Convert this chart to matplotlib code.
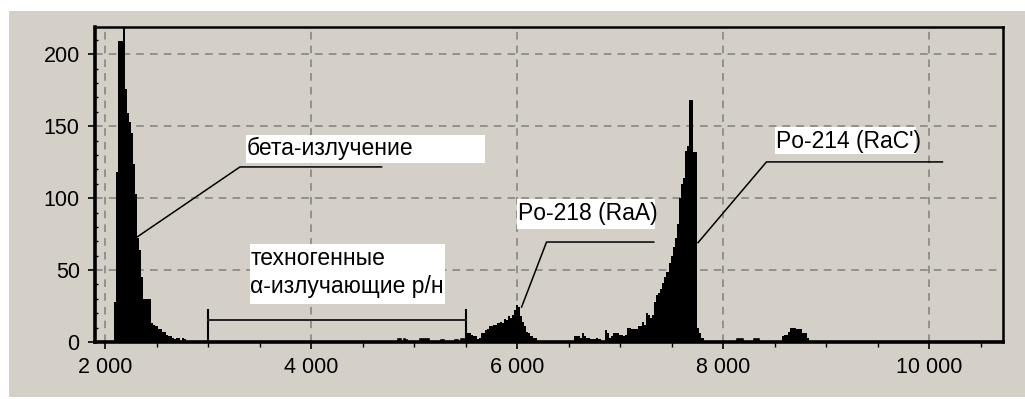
import matplotlib
matplotlib.use('Agg')
import matplotlib.pyplot as plt
import numpy as np
from matplotlib.ticker import MultipleLocator, FuncFormatter
from matplotlib.patches import Rectangle

# channel width of the spectrum
BIN = 20

# beta continuum
beta_start = 2090
beta_counts = [28, 118, 209, 209, 230, 176, 159, 153, 145, 124,
               103, 72, 64, 45, 30, 30, 30, 30, 13, 12,
               11, 9, 9, 7, 7, 5, 4, 4, 3, 2,
               3, 3, 1, 3, 2]

# Po-218 (RaA) region
po218_start = 5490
po218_counts = [4, 6, 6, 5, 4, 4, 2, 3, 6, 6,
                8, 9, 11, 11, 12, 12, 13, 14, 13, 16,
                15, 18, 17, 19, 22, 26, 24, 18, 14, 11,
                7, 6, 4, 3, 3, 1]

# Po-214 (RaC') region
po214_start = 6550
po214_counts = [4, 4, 4, 3, 6, 4, 3, 3, 2, 2,
                2, 3, 2, 1, 1, 8, 6, 3, 4, 6,
                6, 6, 5, 5, 4, 5, 10, 10, 9, 9,
                9, 11, 11, 14, 12, 20, 19, 17, 19, 28,
                33, 34, 37, 41, 45, 49, 55, 60, 66, 72,
                82, 100, 110, 114, 133, 136, 168, 168, 132, 132,
                10, 6, 3]

# small peak near 8700
tail_start = 8570
tail_counts = [4, 5, 5, 7, 10, 10, 10, 9, 9, 9, 6, 6, 3]

# scattered single channels
noise_channels = [4830, 4850, 4890, 4910, 5050, 5070, 5090, 5110, 5130,
                  5250, 5270, 5390, 5410, 5450, 5470,
                  8130, 8150, 8170, 8290, 8310, 8330]
noise_counts = [3, 3, 3, 2, 3, 3, 3, 3, 3, 2, 2, 2, 2, 3, 3,
                3, 3, 3, 3, 3, 3]

BG = '#d4d0c8'
plt.rcParams['font.family'] = 'Liberation Sans'

fig = plt.figure(figsize=(10.25, 3.99), dpi=100, facecolor='white')
panel = Rectangle((9 / 1025, 2 / 399), 1 - 9 / 1025, 386 / 399,
                  transform=fig.transFigure, facecolor=BG,
                  edgecolor='none', zorder=-10)
fig.add_artist(panel)
ax = fig.add_axes([95 / 1025, 57 / 399, 908 / 1025, 315 / 399])
ax.set_facecolor(BG)

# filled spectrum, one stair block per region
for start, counts in [(beta_start, beta_counts), (po218_start, po218_counts),
                      (po214_start, po214_counts), (tail_start, tail_counts)]:
    edges = start + BIN * np.arange(len(counts) + 1)
    ax.stairs(counts, edges, fill=True, color='black', zorder=2)
ax.bar(noise_channels, noise_counts, width=BIN, align='edge', color='black',
       edgecolor='black', linewidth=0.4, zorder=2)

ax.set_xlim(1903, 10717)
ax.set_ylim(0, 219)

ax.xaxis.set_major_locator(MultipleLocator(2000))
ax.xaxis.set_minor_locator(MultipleLocator(500))
ax.yaxis.set_major_locator(MultipleLocator(50))
ax.yaxis.set_minor_locator(MultipleLocator(10))
ax.xaxis.set_major_formatter(FuncFormatter(lambda v, p: f"{v:,.0f}".replace(',', ' ')))

ax.tick_params(which='major', length=5, width=1.2, pad=6, labelsize=15.5)
ax.tick_params(axis='x', which='minor', length=3.5, width=1.0, direction='out')
ax.tick_params(axis='y', which='minor', length=2, width=1.0, direction='in')

ax.grid(which='major', color='#808080', linestyle=(0, (5, 4)), linewidth=1.1, zorder=1)
ax.set_axisbelow(True)

for side, lw in [('left', 2.6), ('bottom', 2.6), ('top', 1.8), ('right', 1.8)]:
    ax.spines[side].set_linewidth(lw)
    ax.spines[side].set_zorder(5)

# label boxes
def box(x0, x1, y0, y1):
    ax.add_patch(Rectangle((x0, y0), x1 - x0, y1 - y0, facecolor='white',
                           edgecolor='none', zorder=3))

FS = 16.5

box(3368, 5688, 124.5, 144.2)
ax.text(3378, 134.5, 'бета-излучение', fontsize=FS, va='center', ha='left', zorder=4)
ax.plot([2291, 3310, 4685], [72, 121.7, 121.7], color='black', lw=1.1, zorder=4)

box(3407, 5299, 26.2, 68.4)
ax.text(3412, 58, 'техногенные', fontsize=FS, va='center', ha='left', zorder=4)
ax.text(3412, 38.3, 'α-излучающие р/н', fontsize=FS, va='center', ha='left', zorder=4)
ax.plot([3000, 3000], [0, 22.5], color='black', lw=1.5, zorder=4)
ax.plot([5500, 5500], [0, 22.5], color='black', lw=1.5, zorder=4)
ax.plot([3000, 5500], [15.6, 15.6], color='#222222', lw=1.4, zorder=4)

box(5995, 7338, 78.9, 99.6)
ax.text(6008, 89.5, 'Po-218 (RaA)', fontsize=FS, va='center', ha='left', zorder=4)
ax.plot([6044, 6286, 7327], [24.3, 69.5, 69.5], color='black', lw=1.1, zorder=4)

box(8502, 9876, 130.5, 149.5)
ax.text(8512, 139.5, "Po-214 (RaC')", fontsize=FS, va='center', ha='left', zorder=4)
ax.plot([7757, 8421, 10129], [69.1, 125.2, 125.2], color='black', lw=1.1, zorder=4)

fig.savefig('out.png', dpi=100, facecolor='white')
